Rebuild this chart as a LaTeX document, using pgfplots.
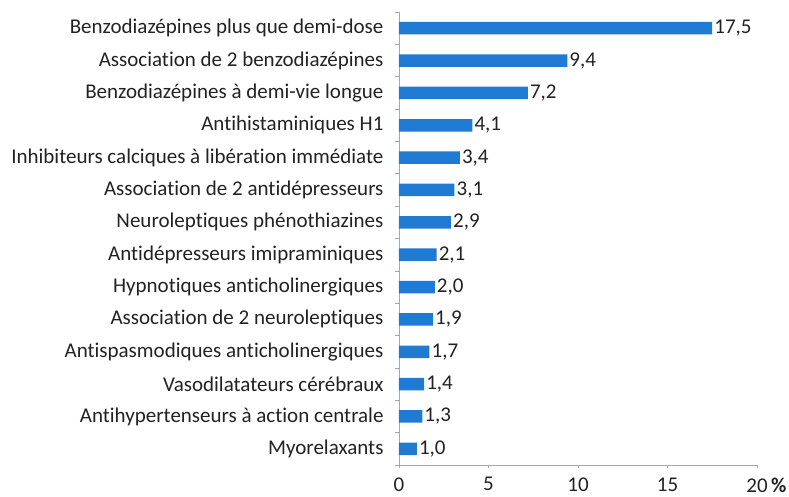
\documentclass[border=0pt]{standalone}
\usepackage{fontspec}
\setmainfont[Ligatures=NoCommon]{Carlito}
\usepackage{pgfplots}
\pgfplotsset{compat=1.18}
\definecolor{barblue}{HTML}{1F7AD4}
\definecolor{axgray}{HTML}{A8A8A8}
\definecolor{txt}{HTML}{222222}
\newcommand{\lf}{\fontsize{21bp}{25bp}\selectfont}
\begin{document}
\begin{tikzpicture}
\begin{axis}[
  scale only axis, width=358bp, height=453bp,
  xbar, bar width=12.5bp, bar shift=0pt,
  xmin=0, xmax=20, ymin=-0.5, ymax=13.5, y dir=reverse,
  axis lines*=left,
  axis line style={axgray, line width=0.8pt},
  /pgf/number format/assume math mode=true,
  xtick={0,5,10,15,20},
  xticklabels={0,5,10,15,{20\rlap{\,\textbf{\%}}}},
  xticklabel style={text=txt, font=\lf, yshift=-6bp},
  ytick={0,...,13},
  yticklabels={
    Benzodiazépines plus que demi-dose,
    Association de 2 benzodiazépines,
    Benzodiazépines à demi-vie longue\ ,
    Antihistaminiques H1,
    Inhibiteurs calciques à libération immédiate,
    Association de 2 antidépresseurs,
    Neuroleptiques phénothiazines,
    Antidépresseurs imipraminiques,
    Hypnotiques anticholinergiques,
    Association de 2 neuroleptiques,
    Antispasmodiques anticholinergiques,
    Vasodilatateurs cérébraux,
    Antihypertenseurs à action centrale,
    Myorelaxants},
  yticklabel style={text=txt, font=\lf, xshift=-9bp},
  minor ytick={-0.5,0.5,...,13.5},
  major y tick style={draw=none},
  minor tick length=4bp,
  major tick length=3bp,
  tick align=outside,
  tick style={axgray, line width=0.6pt},
  nodes near coords,
  nodes near coords style={text=txt, font=\lf, inner sep=2bp,
    /pgf/number format/.cd, fixed, fixed zerofill, precision=1, use comma},
  clip=false,
]
\addplot[fill=barblue, draw=none] coordinates {
  (17.5,0) (9.4,1) (7.2,2) (4.1,3) (3.4,4) (3.1,5) (2.9,6)
  (2.1,7) (2.0,8) (1.9,9) (1.7,10) (1.4,11) (1.3,12) (1.0,13)
};
\end{axis}
\path (current axis.south west) ++(-399bp,-32bp) rectangle ++(789bp,497bp);
\end{tikzpicture}
\end{document}
